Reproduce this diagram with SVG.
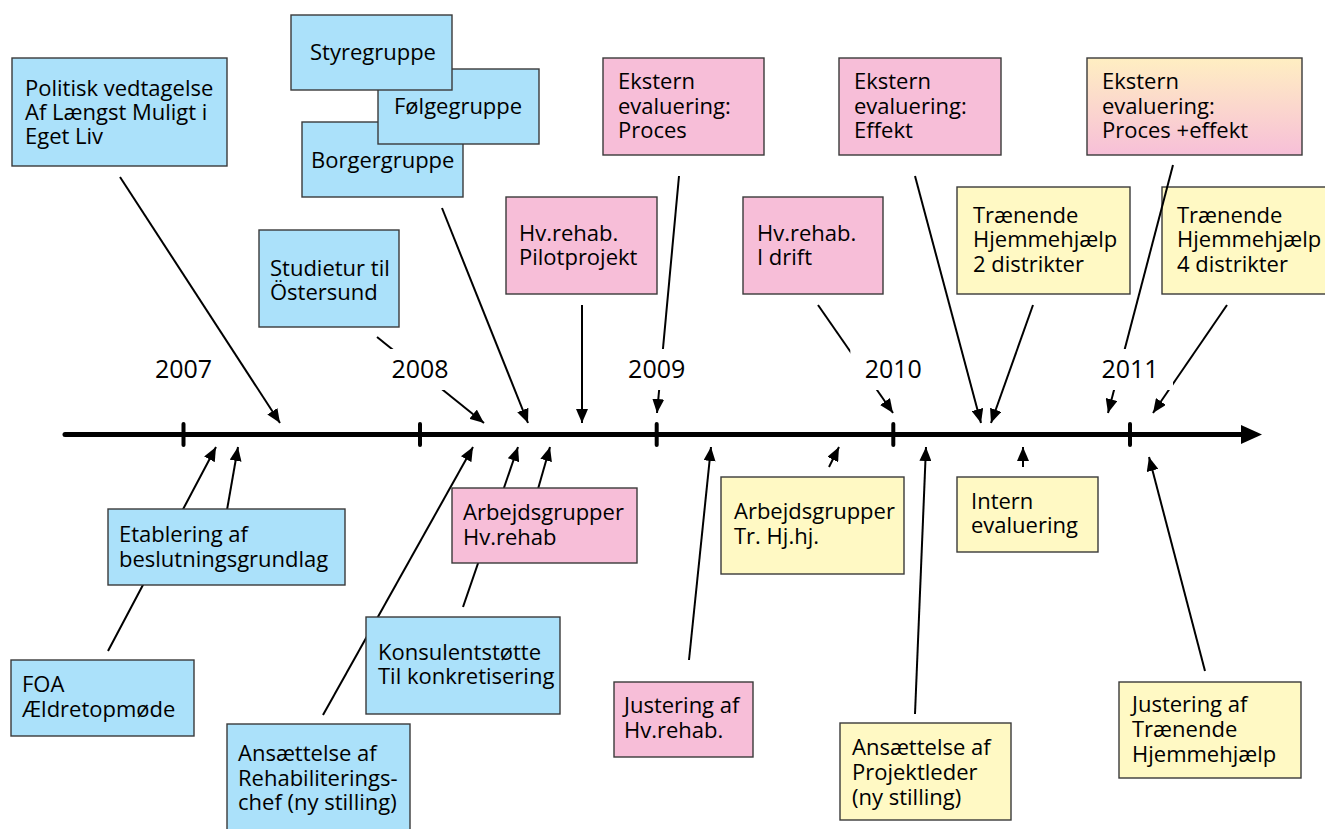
<svg xmlns="http://www.w3.org/2000/svg" width="1325" height="829" viewBox="0 0 1325 829">
<style>
.box{stroke:#3a3a3a;stroke-width:1.4}
.blue{fill:#abe1fa}
.pink{fill:#f7bed8}
.yellow{fill:#fff9c4}
.grad{fill:url(#pe)}
text{font-family:"Open Sans","Noto Sans",sans-serif;font-size:22px;fill:#000}
.year{font-size:25px;text-anchor:middle}
.conn line{stroke:#000;stroke-width:2;marker-end:url(#ah)}
.tick{stroke:#000;stroke-width:4;stroke-linecap:round}
</style>
<defs>
<linearGradient id="pe" x1="0" y1="0" x2="0" y2="1">
<stop offset="0" stop-color="#ffefc2"/>
<stop offset="1" stop-color="#f7bfd8"/>
</linearGradient>
<marker id="ah" viewBox="0 0 14 12" refX="14" refY="6" markerWidth="14" markerHeight="12" markerUnits="userSpaceOnUse" orient="auto">
<path d="M0,0 L14,6 L0,12 z" fill="#000"/>
</marker>
</defs>
<rect width="1325" height="829" fill="#fff"/>

<g id="n12"><rect class="box yellow" x="1162" y="187" width="170" height="107"/><text x="1177"><tspan x="1177" y="223">Trænende</tspan><tspan x="1177" y="247">Hjemmehjælp</tspan><tspan x="1177" y="272">4 distrikter</tspan></text></g>

<g id="connectors" class="conn">
<line x1="120" y1="177" x2="280" y2="423"/>
<line x1="377" y1="337" x2="484" y2="423"/>
<line x1="442" y1="208" x2="528" y2="423"/>
<line x1="582" y1="305" x2="582" y2="423"/>
<line x1="679" y1="176" x2="657" y2="413"/>
<line x1="818" y1="305" x2="893" y2="413"/>
<line x1="915" y1="176" x2="981" y2="423"/>
<line x1="1033" y1="305" x2="991" y2="423"/>
<line x1="1173" y1="165" x2="1108" y2="413"/>
<line x1="1227" y1="305" x2="1153" y2="413"/>
<line x1="108" y1="651" x2="216" y2="447"/>
<line x1="227" y1="510" x2="238" y2="447"/>
<line x1="323" y1="715" x2="473" y2="447"/>
<line x1="463" y1="607" x2="518" y2="447"/>
<line x1="538" y1="489" x2="550" y2="447"/>
<line x1="689" y1="660" x2="711" y2="447"/>
<line x1="829" y1="467" x2="839" y2="447"/>
<line x1="915" y1="714" x2="926" y2="447"/>
<line x1="1023" y1="467" x2="1023" y2="447"/>
<line x1="1205" y1="671" x2="1149" y2="457"/>
</g>

<g id="axis">
<line x1="65" y1="434.5" x2="1245" y2="434.5" stroke="#000" stroke-width="5" stroke-linecap="round"/>
<polygon points="1241,425 1262,434.5 1241,444" fill="#000"/>
<line class="tick" x1="183.5" y1="424" x2="183.5" y2="445"/>
<line class="tick" x1="420" y1="424" x2="420" y2="445"/>
<line class="tick" x1="656.7" y1="424" x2="656.7" y2="445"/>
<line class="tick" x1="893.3" y1="424" x2="893.3" y2="445"/>
<line class="tick" x1="1130" y1="424" x2="1130" y2="445"/>
</g>

<g id="years">
<rect x="140.5" y="349" width="86" height="41" fill="#fff"/><text class="year" x="183.5" y="378">2007</text>
<rect x="377" y="349" width="86" height="41" fill="#fff"/><text class="year" x="420" y="378">2008</text>
<rect x="613.7" y="349" width="86" height="41" fill="#fff"/><text class="year" x="656.7" y="378">2009</text>
<rect x="850.3" y="349" width="86" height="41" fill="#fff"/><text class="year" x="893.3" y="378">2010</text>
<rect x="1087" y="349" width="86" height="41" fill="#fff"/><text class="year" x="1130" y="378">2011</text>
</g>

<g id="n1"><rect class="box blue" x="12" y="58" width="215" height="108"/><text><tspan x="25" y="96">Politisk vedtagelse</tspan><tspan x="25" y="120">Af Længst Muligt i</tspan><tspan x="25" y="144">Eget Liv</tspan></text></g>
<g id="n4"><rect class="box blue" x="302" y="122" width="161" height="75"/><text x="311" y="168">Borgergruppe</text></g>
<g id="n3"><rect class="box blue" x="378" y="69" width="161" height="75"/><text x="394" y="114">Følgegruppe</text></g>
<g id="n2"><rect class="box blue" x="291" y="15" width="161" height="75"/><text x="310" y="60">Styregruppe</text></g>
<g id="n5"><rect class="box blue" x="259" y="230" width="140" height="97"/><text><tspan x="270" y="276">Studietur til</tspan><tspan x="270" y="300">Östersund</tspan></text></g>
<g id="n6"><rect class="box pink" x="506" y="197" width="151" height="97"/><text><tspan x="519" y="241">Hv.rehab.</tspan><tspan x="519" y="265">Pilotprojekt</tspan></text></g>
<g id="n7"><rect class="box pink" x="603" y="58" width="161" height="97"/><text><tspan x="618" y="89">Ekstern</tspan><tspan x="618" y="114">evaluering:</tspan><tspan x="618" y="138">Proces</tspan></text></g>
<g id="n8"><rect class="box pink" x="743" y="197" width="140" height="97"/><text><tspan x="757" y="241">Hv.rehab.</tspan><tspan x="757" y="265">I drift</tspan></text></g>
<g id="n9"><rect class="box pink" x="839" y="58" width="162" height="97"/><text><tspan x="854" y="89">Ekstern</tspan><tspan x="854" y="114">evaluering:</tspan><tspan x="854" y="138">Effekt</tspan></text></g>
<g id="n10"><rect class="box grad" x="1087" y="58" width="215" height="97"/><text><tspan x="1102" y="89">Ekstern</tspan><tspan x="1102" y="114">evaluering:</tspan><tspan x="1102" y="138">Proces +effekt</tspan></text></g>
<g id="n11"><rect class="box yellow" x="957" y="187" width="173" height="107"/><text><tspan x="973" y="223">Trænende</tspan><tspan x="973" y="247">Hjemmehjælp</tspan><tspan x="973" y="272">2 distrikter</tspan></text></g>

<g id="n13"><rect class="box blue" x="108" y="509" width="237" height="76"/><text><tspan x="119" y="542">Etablering af</tspan><tspan x="119" y="567">beslutningsgrundlag</tspan></text></g>
<g id="n14"><rect class="box blue" x="11" y="660" width="183" height="76"/><text><tspan x="22" y="692">FOA</tspan><tspan x="22" y="717">Ældretopmøde</tspan></text></g>
<g id="n15"><rect class="box pink" x="452" y="488" width="185" height="75"/><text><tspan x="463" y="520">Arbejdsgrupper</tspan><tspan x="463" y="545">Hv.rehab</tspan></text></g>
<g id="n16"><rect class="box blue" x="366" y="617" width="194" height="97"/><text><tspan x="378" y="660">Konsulentstøtte</tspan><tspan x="378" y="684">Til konkretisering</tspan></text></g>
<g id="n17"><rect class="box blue" x="227" y="724" width="183" height="110"/><text><tspan x="238" y="761">Ansættelse af</tspan><tspan x="238" y="786">Rehabiliterings-</tspan><tspan x="238" y="810">chef (ny stilling)</tspan></text></g>
<g id="n18"><rect class="box pink" x="614" y="682" width="139" height="75"/><text><tspan x="624" y="713">Justering af</tspan><tspan x="624" y="738">Hv.rehab.</tspan></text></g>
<g id="n19"><rect class="box yellow" x="721" y="477" width="183" height="97"/><text><tspan x="734" y="519">Arbejdsgrupper</tspan><tspan x="734" y="544">Tr. Hj.hj.</tspan></text></g>
<g id="n20"><rect class="box yellow" x="957" y="477" width="141" height="75"/><text><tspan x="971" y="509">Intern</tspan><tspan x="971" y="533">evaluering</tspan></text></g>
<g id="n21"><rect class="box yellow" x="840" y="723" width="171" height="97"/><text><tspan x="852" y="755">Ansættelse af</tspan><tspan x="852" y="780">Projektleder</tspan><tspan x="852" y="805">(ny stilling)</tspan></text></g>
<g id="n22"><rect class="box yellow" x="1119" y="682" width="182" height="96"/><text><tspan x="1132" y="712">Justering af</tspan><tspan x="1132" y="737">Trænende</tspan><tspan x="1132" y="762">Hjemmehjælp</tspan></text></g>
</svg>
